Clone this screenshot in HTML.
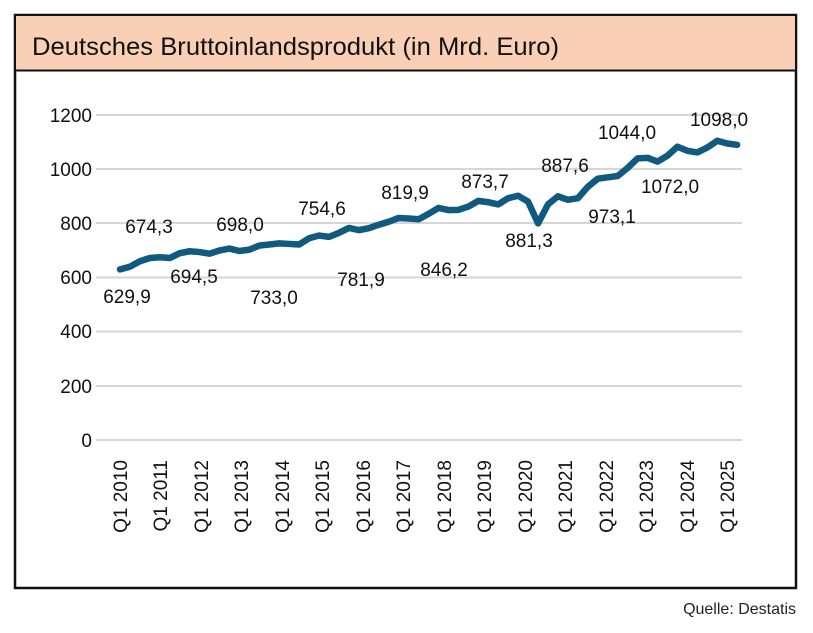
<!DOCTYPE html>
<html><head><meta charset="utf-8"><style>
body{margin:0;background:#fff;width:813px;height:628px;overflow:hidden;font-family:"Liberation Sans",sans-serif}
</style></head><body>
<svg width="813" height="628" xmlns="http://www.w3.org/2000/svg" font-family="Liberation Sans, sans-serif">
<rect x="15" y="15" width="781" height="573" fill="#fff" stroke="#111" stroke-width="2.5"/>
<rect x="16" y="16" width="779" height="54" fill="#f9d0b5"/>
<line x1="15" y1="70.5" x2="796" y2="70.5" stroke="#111" stroke-width="2"/>
<text x="32" y="55" font-size="25" fill="#111" textLength="527" lengthAdjust="spacingAndGlyphs">Deutsches Bruttoinlandsprodukt (in Mrd. Euro)</text>
<g stroke="#d6d6d6" stroke-width="2">
<line x1="96" y1="115" x2="742" y2="115"/><line x1="96" y1="169" x2="742" y2="169"/>
<line x1="96" y1="223" x2="742" y2="223"/><line x1="96" y1="277.5" x2="742" y2="277.5"/>
<line x1="96" y1="331.5" x2="742" y2="331.5"/><line x1="96" y1="386" x2="742" y2="386"/>
<line x1="96" y1="440" x2="742" y2="440"/></g>
<g font-size="19" fill="#111" text-anchor="end">
<text x="92" y="122">1200</text><text x="92" y="176">1000</text><text x="92" y="230">800</text>
<text x="92" y="284">600</text><text x="92" y="338">400</text><text x="92" y="393">200</text><text x="92" y="447">0</text></g>
<g transform="matrix(10.12,0,0,-0.2708,120,440)">
<polyline fill="none" stroke="#0f5a7e" stroke-width="6.5" stroke-linejoin="round" stroke-linecap="round" vector-effect="non-scaling-stroke" points="0,630 1,640 2,660 3,672 4,675 5,672 6,690 7,697 8,694 9,688 10,700 11,707 12,698 13,703 14,718 15,722 16,726 17,724 18,722 19,745 20,755 21,750 22,765 23,783 24,775 25,782 26,795 27,806 28,820 29,818 30,815 31,835 32,857 33,849 34,850 35,862 36,883 37,878 38,870 39,893 40,902 41,880 42,800 43,870 44,900 45,887 46,893 47,935 48,965 49,970 50,975 51,1005 52,1040 53,1042 54,1028 55,1050 56,1083 57,1068 58,1062 59,1080 60,1105 61,1095 62,1090" transform="scale(0.9836,1)"/>
</g>
<g font-size="19" fill="#111" text-anchor="middle">
<text x="127" y="303">629,9</text><text x="149" y="233">674,3</text><text x="194" y="283">694,5</text>
<text x="240" y="231">698,0</text><text x="274" y="304">733,0</text><text x="322" y="215">754,6</text>
<text x="361" y="286">781,9</text><text x="405" y="199">819,9</text><text x="444" y="276">846,2</text>
<text x="485" y="188">873,7</text><text x="529" y="247">881,3</text><text x="565" y="172">887,6</text>
<text x="612" y="223">973,1</text><text x="627" y="139">1044,0</text><text x="670" y="193">1072,0</text>
<text x="719" y="126">1098,0</text></g>
<g font-size="19" fill="#111" text-anchor="end">
<text transform="translate(127,460) rotate(-90)">Q1 2010</text>
<text transform="translate(167,460) rotate(-90)">Q1 2011</text>
<text transform="translate(208,460) rotate(-90)">Q1 2012</text>
<text transform="translate(248,460) rotate(-90)">Q1 2013</text>
<text transform="translate(289,460) rotate(-90)">Q1 2014</text>
<text transform="translate(329,460) rotate(-90)">Q1 2015</text>
<text transform="translate(370,460) rotate(-90)">Q1 2016</text>
<text transform="translate(410,460) rotate(-90)">Q1 2017</text>
<text transform="translate(451,460) rotate(-90)">Q1 2018</text>
<text transform="translate(491,460) rotate(-90)">Q1 2019</text>
<text transform="translate(532,460) rotate(-90)">Q1 2020</text>
<text transform="translate(572,460) rotate(-90)">Q1 2021</text>
<text transform="translate(613,460) rotate(-90)">Q1 2022</text>
<text transform="translate(653,460) rotate(-90)">Q1 2023</text>
<text transform="translate(694,460) rotate(-90)">Q1 2024</text>
<text transform="translate(734,460) rotate(-90)">Q1 2025</text>
</g>
<text x="796" y="614" font-size="16" fill="#222" text-anchor="end">Quelle: Destatis</text>
</svg>
</body></html>
